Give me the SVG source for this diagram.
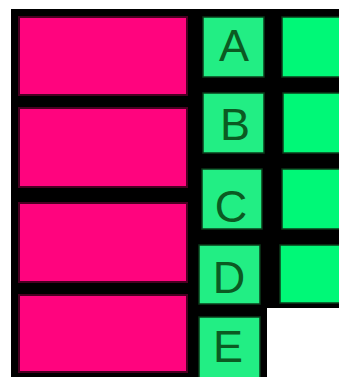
<svg xmlns="http://www.w3.org/2000/svg" width="339" height="377" viewBox="0 0 339 377">
<style>
.bg{fill:#000000}
.pink{fill:#FF047E;stroke:#4a0022;stroke-width:2}
.lg{fill:#22EE84;stroke:#0b3a1a;stroke-width:1.5}
.g{fill:#00F877;stroke:#0b3a1a;stroke-width:1.5}
.lbl{font-family:"Liberation Sans",Arial,sans-serif;font-size:45px;fill:#0B5A22;text-anchor:middle}
</style>
<rect x="0" y="0" width="339" height="377" fill="#FFFFFF"/>
<polygon class="bg" points="11,9 339,9 339,308 267,308 267,377 11,377"/>
<g id="pink1"><rect class="pink" x="19" y="17" width="168" height="78"/></g>
<g id="pink2"><rect class="pink" x="19" y="108" width="168" height="79"/></g>
<g id="pink3"><rect class="pink" x="19" y="203" width="168" height="79"/></g>
<g id="pink4"><rect class="pink" x="19" y="295" width="168" height="77"/></g>
<g id="A"><rect class="lg" x="203" y="17" width="61" height="60"/><text class="lbl" x="234" y="61">A</text></g>
<g id="B"><rect class="lg" x="203" y="93" width="61" height="60"/><text class="lbl" x="235" y="140">B</text></g>
<g id="C"><rect class="lg" x="202" y="169" width="60" height="60"/><text class="lbl" x="231" y="222">C</text></g>
<g id="D"><rect class="lg" x="199" y="245" width="61" height="59"/><text class="lbl" x="229" y="293">D</text></g>
<g id="E"><rect class="lg" x="199" y="317" width="61" height="62"/><text class="lbl" x="228" y="362">E</text></g>
<g id="greenA"><rect class="g" x="282" y="17" width="60" height="60"/></g>
<g id="greenB"><rect class="g" x="283" y="93" width="59" height="60"/></g>
<g id="greenC"><rect class="g" x="282" y="169" width="60" height="60"/></g>
<g id="greenD"><rect class="g" x="280" y="245" width="62" height="58"/></g>
<g id="connectors"></g>
</svg>
